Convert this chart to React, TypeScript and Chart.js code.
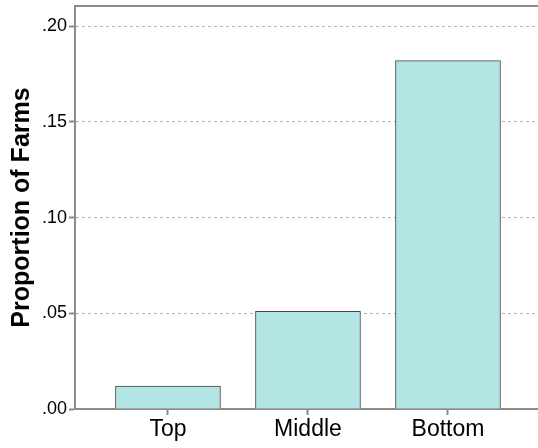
import React, { useEffect, useRef } from "react";
import { Chart, registerables } from "chart.js";

Chart.register(...registerables);

const categories = ["Top", "Middle", "Bottom"];
const proportions = [0.012, 0.051, 0.182];
const yTicks = [0, 0.05, 0.1, 0.15, 0.2];
const yTickLabels = [".00", ".05", ".10", ".15", ".20"];
const yTitle = "Proportion of Farms";

const AXIS = "#8c8c8c";
const FONT = "'Liberation Sans', Arial, sans-serif";

const topBorder = {
  id: "topBorder",
  afterDraw(chart: any) {
    const { ctx, chartArea } = chart;
    ctx.save();
    ctx.strokeStyle = AXIS;
    ctx.lineWidth = 2;
    ctx.beginPath();
    ctx.moveTo(chartArea.left, chartArea.top);
    ctx.lineTo(chartArea.right, chartArea.top);
    ctx.stroke();
    ctx.restore();
  },
};

export default function App() {
  const ref = useRef<HTMLCanvasElement | null>(null);
  useEffect(() => {
    if (!ref.current) return;
    const chart = new Chart(ref.current, {
      type: "bar",
      data: {
        datasets: [
          {
            data: categories.map((c, i) => ({ x: i, y: proportions[i] })),
            backgroundColor: "#b3e5e5",
            borderColor: "#454545",
            borderWidth: 1,
            barThickness: 105,
          },
        ],
      },
      plugins: [topBorder],
      options: {
        animation: false,
        responsive: false,
        layout: { padding: { top: 6, right: 0, left: 0, bottom: 0 } },
        plugins: { legend: { display: false }, tooltip: { enabled: false } },
        scales: {
          x: {
            type: "linear",
            offset: false,
            min: -0.664,
            max: 2.643,
            afterBuildTicks: (scale: any) => {
              scale.ticks = categories.map((_, i) => ({ value: i }));
            },
            afterFit: (scale: any) => {
              scale.height = 39;
              scale.paddingLeft = 0;
              scale.paddingRight = 0;
            },
            ticks: {
              callback: (v: any) => categories[v],
              color: "#000",
              font: { family: FONT, size: 23 },
              padding: 1,
              maxRotation: 0,
              autoSkip: false,
            },
            grid: {
              offset: false,
              drawOnChartArea: false,
              drawTicks: true,
              tickLength: 6,
              tickColor: AXIS,
              tickWidth: 2,
            },
            border: { display: true, color: AXIS, width: 2 },
          },
          y: {
            min: 0,
            max: 0.2105,
            afterBuildTicks: (scale: any) => {
              scale.ticks = yTicks.map((v) => ({ value: v }));
            },
            afterFit: (scale: any) => {
              scale.width = 75;
              scale.paddingTop = 0;
              scale.paddingBottom = 0;
            },
            ticks: {
              callback: (v: any) => yTickLabels[yTicks.indexOf(v)],
              color: "#000",
              font: { family: FONT, size: 18 },
              padding: 2,
            },
            grid: {
              color: (ctx: any) => (ctx.tick && ctx.tick.value === 0 ? "rgba(0,0,0,0)" : "#b4b4b4"),
              lineWidth: 1,
              drawTicks: true,
              tickLength: 6,
              tickColor: AXIS,
              tickWidth: 2,
              tickBorderDash: [],
            },
            border: { display: true, color: AXIS, width: 2, dash: [3, 3] },
            title: {
              display: true,
              text: yTitle,
              color: "#000",
              font: { family: FONT, size: 25, weight: "bold" },
              padding: { top: 7, bottom: 0 },
            },
          },
        },
      },
    } as any);
    return () => chart.destroy();
  }, []);
  return (
    <div style={{ position: "absolute", left: 0, top: 0, width: 538, height: 448, background: "#fff" }}>
      <canvas ref={ref} width={538} height={448} />
    </div>
  );
}
